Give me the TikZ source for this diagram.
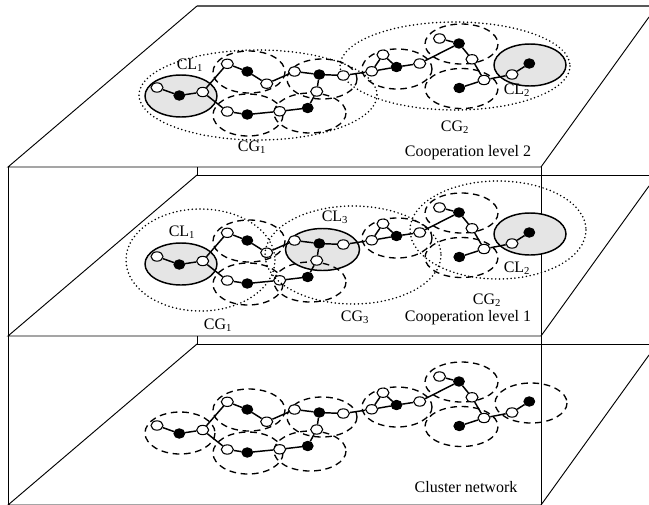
\documentclass[tikz,border=0pt]{standalone}
\usepackage{fontspec}
\setmainfont{Liberation Serif}
\usetikzlibrary{shapes.geometric}
\newcommand\netnodes[1]{%
  \node[wn] (#1n1)  at (157,87.5) {};
  \node[bn] (#1n2)  at (179.3,95.5) {};
  \node[wn] (#1n3)  at (202.7,92) {};
  \node[wn] (#1n4)  at (227.3,63.8) {};
  \node[bn] (#1n5)  at (247.3,71.5) {};
  \node[wn] (#1n6)  at (266.7,83.7) {};
  \node[wn] (#1n7)  at (294.5,71.5) {};
  \node[bn] (#1n8)  at (319.3,74.5) {};
  \node[wn] (#1n9)  at (343.3,75.5) {};
  \node[wn] (#1n10) at (371.7,71.3) {};
  \node[wn] (#1n11) at (383,54.7) {};
  \node[bn] (#1n12) at (396.5,67) {};
  \node[wn] (#1n13) at (419.7,63.5) {};
  \node[wn] (#1n14) at (439.5,38.5) {};
  \node[bn] (#1n15) at (459,43.5) {};
  \node[wn] (#1n16) at (472,59.3) {};
  \node[wn] (#1n17) at (484,80) {};
  \node[bn] (#1n18) at (459.3,88) {};
  \node[wn] (#1n19) at (512,74.5) {};
  \node[bn] (#1n20) at (529.3,63.5) {};
  \node[wn] (#1n21) at (316.7,91.5) {};
  \node[bn] (#1n22) at (307.7,108) {};
  \node[wn] (#1n23) at (279.7,111.3) {};
  \node[bn] (#1n24) at (247.3,114.5) {};
  \node[wn] (#1n25) at (227.3,111.5) {};
  \draw[link] (#1n1)--(#1n2)--(#1n3)--(#1n4)--(#1n5)--(#1n6)--(#1n7)--(#1n8)--(#1n9)--(#1n10)--(#1n11)--(#1n12)--(#1n13)--(#1n15)--(#1n16)--(#1n17)--(#1n19)--(#1n20);
  \draw[link] (#1n10)--(#1n12);
  \draw[link] (#1n14)--(#1n15);
  \draw[link] (#1n17)--(#1n18);
  \draw[link] (#1n3)--(#1n25)--(#1n24)--(#1n23)--(#1n22)--(#1n21)--(#1n8);
}
\newcommand\cover[4]{\draw[cov] (#1,#2) ellipse [x radius=#3, y radius=#4];}
\newcommand\clarea[4]{\draw[cl] (#1,#2) ellipse [x radius=#3, y radius=#4];}
\newcommand\cgroup[4]{\draw[cgp] (#1,#2) ellipse [x radius=#3, y radius=#4];}
\begin{document}
\begin{tikzpicture}[x=0.75pt,y=-0.75pt,
  wn/.style={ellipse, draw, fill=white, line width=0.8pt, minimum width=9pt, minimum height=7pt, inner sep=0pt},
  bn/.style={ellipse, draw, fill=black, line width=0.8pt, minimum width=8pt, minimum height=7pt, inner sep=0pt},
  link/.style={line width=1.1pt},
  cov/.style={line width=1pt, dash pattern=on 5pt off 3.5pt},
  cgp/.style={line width=1.3pt, dash pattern=on 0pt off 2.9pt, line cap=round},
  cl/.style={draw, fill=black!10, line width=1.1pt},
  frame/.style={line width=0.7pt},
  lbl/.style={font=\fontsize{12}{14}\selectfont, inner sep=0pt}]
\useasboundingbox (0,0) rectangle (649,504);
% frame
\draw[frame] (8,167)--(8,504);
\draw[frame] (541,167)--(541,504);
\draw[frame] (197,167)--(197,175);
\draw[frame] (197,336)--(197,344);
\foreach \d in {0,169,338}{
  \draw[frame] (197,6+\d)--(8,167+\d)--(541,167+\d)--(649,17+\d);
}
\draw[frame, black!65, line width=1pt] (197,6)--(649,6);
\draw[frame] (197,175)--(649,175);
\draw[frame] (197,344)--(649,344);
% top layer
\clarea{181}{96}{36}{21}
\clarea{530}{65}{36}{21}
\cover{249}{72}{36}{21}
\cover{248}{115}{35}{21}
\cover{322}{79}{35}{20}
\cover{310}{113}{36}{20}
\cover{397}{69}{35}{20}
\cover{461.5}{44}{36.5}{20}
\cover{461.5}{88.5}{36.5}{20}
\cgroup{258}{95}{119}{45}
\cgroup{455}{66}{115}{44}
\netnodes{T}
\node[lbl] (tcl1) at (190,65) {CL\textsubscript{1}};
\node[lbl] (tcl2) at (517,90) {CL\textsubscript{2}};
\node[lbl] (tcg1) at (252,147) {CG\textsubscript{1}};
\node[lbl] (tcg2) at (455,127) {CG\textsubscript{2}};
\node[lbl] (tlev) at (468,153) {Cooperation level 2};
% middle layer
\begin{scope}[shift={(0,169)}]
\clarea{181}{95}{36}{21}
\clarea{322.5}{80.5}{37}{21}
\clarea{530}{65}{36}{21}
\cover{249}{72}{36}{21}
\cover{248}{115}{35}{21}
\cover{310}{113}{36}{20}
\cover{397}{69}{35}{20}
\cover{461.5}{44}{36.5}{20}
\cover{461.5}{88.5}{36.5}{20}
\netnodes{M}
\end{scope}
\cgroup{200.5}{260}{74.5}{51}
\cgroup{353}{255}{88}{49}
\cgroup{498}{230}{88}{49}
\node[lbl] (mcl1) at (182,232) {CL\textsubscript{1}};
\node[lbl] (mcl3) at (335,217) {CL\textsubscript{3}};
\node[lbl] (mcl2) at (517,268) {CL\textsubscript{2}};
\node[lbl] (mcg2) at (487,300) {CG\textsubscript{2}};
\node[lbl] (mcg3) at (355,317) {CG\textsubscript{3}};
\node[lbl] (mcg1) at (218,325) {CG\textsubscript{1}};
\node[lbl] (mlev) at (468,318) {Cooperation level 1};
% bottom layer
\begin{scope}[shift={(0,338)}]
\cover{180}{95}{35}{21}
\cover{249}{72}{36}{21}
\cover{248}{115}{35}{21}
\cover{322}{79}{35}{20}
\cover{310}{113}{36}{20}
\cover{397}{69}{35}{20}
\cover{461.5}{44}{36.5}{20}
\cover{461.5}{88.5}{36.5}{20}
\cover{531}{65}{36}{20}
\netnodes{B}
\end{scope}
\node[lbl] (blev) at (466,487) {Cluster network};
\end{tikzpicture}
\end{document}
